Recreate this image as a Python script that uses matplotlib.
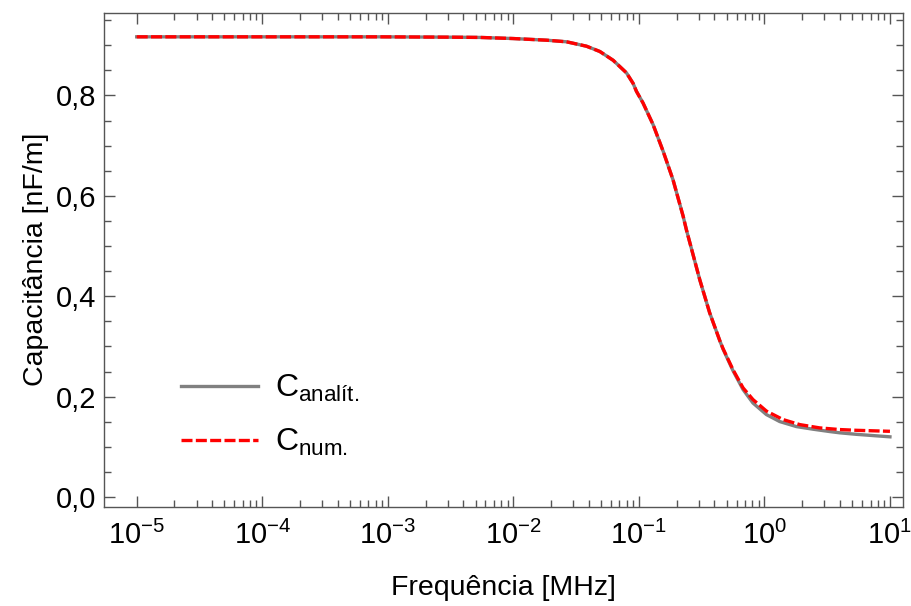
import numpy as np
import matplotlib.pyplot as plt
from matplotlib.ticker import FuncFormatter, FixedLocator, MultipleLocator

plt.rcParams['font.family'] = ['Liberation Sans', 'DejaVu Sans']
plt.rcParams['mathtext.fontset'] = 'custom'
plt.rcParams['mathtext.rm'] = 'Liberation Sans'
plt.rcParams['mathtext.it'] = 'Liberation Sans:italic'
plt.rcParams['mathtext.bf'] = 'Liberation Sans:bold'

# Dados (expoente da frequência em MHz, capacitância em nF/m)
exp_analit = [-5.0, -4.0, -3.063, -2.5, -2.267, -2.002, -1.736, -1.576, -1.417,
              -1.311, -1.205, -1.099, -1.046, -1.019, -0.967, -0.887, -0.807,
              -0.728, -0.648, -0.621, -0.515, -0.436, -0.356, -0.330, -0.250,
              -0.170, -0.091, 0.016, 0.122, 0.255, 0.387, 0.520, 0.600, 0.732,
              0.865, 1.0]
c_analit = [0.9167, 0.9167, 0.9167, 0.916, 0.9155, 0.9133, 0.910, 0.9068, 0.898,
            0.8875, 0.870, 0.845, 0.824, 0.808, 0.785, 0.742, 0.689,
            0.632, 0.560, 0.532, 0.433, 0.367, 0.312, 0.295, 0.2516,
            0.2141, 0.1873, 0.1643, 0.1504, 0.1404, 0.1352, 0.1305, 0.128, 0.125,
            0.1225, 0.120]

exp_num = [-5.0, -4.0, -3.063, -2.5, -2.267, -2.002, -1.736, -1.576, -1.417,
           -1.311, -1.205, -1.099, -1.046, -1.019, -0.967, -0.887, -0.807,
           -0.728, -0.648, -0.621, -0.515, -0.436, -0.356, -0.330, -0.250,
           -0.170, -0.091, 0.016, 0.148, 0.281, 0.440, 0.600, 0.732,
           0.865, 1.0]
c_num = [0.9167, 0.9167, 0.9167, 0.916, 0.9155, 0.9133, 0.910, 0.9068, 0.898,
         0.8875, 0.870, 0.845, 0.824, 0.808, 0.785, 0.742, 0.689,
         0.632, 0.560, 0.532, 0.433, 0.367, 0.312, 0.296, 0.2536,
         0.2175, 0.1942, 0.1713, 0.1544, 0.1444, 0.1378, 0.1345, 0.133,
         0.132, 0.131]

decadas = [-5, -4, -3, -2, -1, 0, 1]

f_analit = 10.0 ** np.array(exp_analit)
f_num = 10.0 ** np.array(exp_num)

fig = plt.figure(figsize=(9.11, 6.06), dpi=100)
ax = fig.add_axes([0.1145, 0.164, 0.877, 0.815])

ax.plot(f_analit, c_analit, color='#808080', lw=2.4, label=r'$\mathrm{C_{analít.}}$')
ax.plot(f_num, c_num, color='red', lw=2.4, dashes=(3.3, 1.0),
        label=r'$\mathrm{C_{num.}}$')

ax.set_xscale('log')
ax.set_xlim(10 ** -5.258, 10 ** 1.106)
ax.set_ylim(-0.019, 0.9647)

menores = [m * 10.0 ** d for d in decadas[:-1] for m in range(2, 10)]
ax.xaxis.set_major_locator(FixedLocator([10.0 ** d for d in decadas]))
ax.xaxis.set_minor_locator(FixedLocator(menores))
ax.xaxis.set_major_formatter(FuncFormatter(lambda v, p: r'$10^{%d}$' % round(np.log10(v))))
ax.yaxis.set_major_locator(MultipleLocator(0.2))
ax.yaxis.set_minor_locator(MultipleLocator(0.05))
ax.yaxis.set_major_formatter(FuncFormatter(lambda v, p: ('%.1f' % v).replace('.', ',')))

ax.tick_params(which='both', direction='in', top=True, right=True,
               color='#555555', width=1.0, labelsize=21)
ax.tick_params(axis='x', pad=10)
ax.tick_params(axis='y', pad=6)
ax.tick_params(which='major', length=8)
ax.tick_params(which='minor', length=5)
for s in ax.spines.values():
    s.set_color('#555555')
    s.set_linewidth(1.0)

ax.set_xlabel('Frequência [MHz]', fontsize=20.5, labelpad=18)
ax.set_ylabel('Capacitância [nF/m]', fontsize=20.5, labelpad=5)

ax.legend(loc='lower left', bbox_to_anchor=(0.06, 0.04), frameon=False,
          fontsize=23, handlelength=2.4, handletextpad=0.55, labelspacing=0.72)

fig.savefig('out.png', dpi=100)
